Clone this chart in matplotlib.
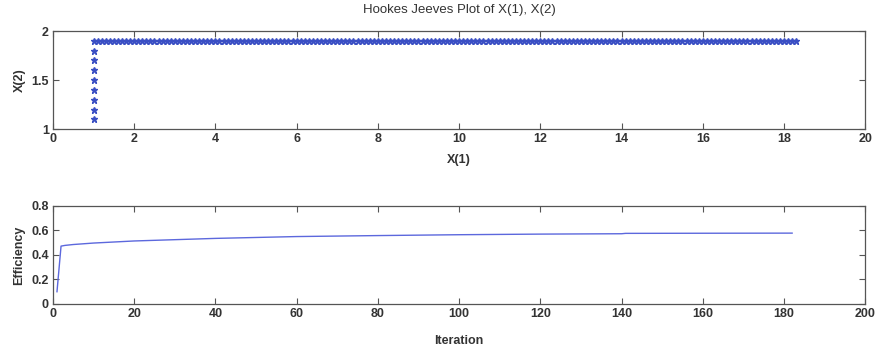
import matplotlib.pyplot as plt

plt.rcParams['font.family'] = ['Liberation Sans', 'DejaVu Sans']

# Hooke-Jeeves path: first along X(2) at X(1)=1, then along X(1) at X(2)=1.9
x1_vertical = [1.0, 1.0, 1.0, 1.0, 1.0, 1.0, 1.0, 1.0]
x2_vertical = [1.1, 1.2, 1.3, 1.4, 1.5, 1.6, 1.7, 1.8]

x1_horizontal = [
    1.0, 1.1, 1.2, 1.3, 1.4, 1.5, 1.6, 1.7, 1.8, 1.9,
    2.0, 2.1, 2.2, 2.3, 2.4, 2.5, 2.6, 2.7, 2.8, 2.9,
    3.0, 3.1, 3.2, 3.3, 3.4, 3.5, 3.6, 3.7, 3.8, 3.9,
    4.0, 4.1, 4.2, 4.3, 4.4, 4.5, 4.6, 4.7, 4.8, 4.9,
    5.0, 5.1, 5.2, 5.3, 5.4, 5.5, 5.6, 5.7, 5.8, 5.9,
    6.0, 6.1, 6.2, 6.3, 6.4, 6.5, 6.6, 6.7, 6.8, 6.9,
    7.0, 7.1, 7.2, 7.3, 7.4, 7.5, 7.6, 7.7, 7.8, 7.9,
    8.0, 8.1, 8.2, 8.3, 8.4, 8.5, 8.6, 8.7, 8.8, 8.9,
    9.0, 9.1, 9.2, 9.3, 9.4, 9.5, 9.6, 9.7, 9.8, 9.9,
    10.0, 10.1, 10.2, 10.3, 10.4, 10.5, 10.6, 10.7, 10.8, 10.9,
    11.0, 11.1, 11.2, 11.3, 11.4, 11.5, 11.6, 11.7, 11.8, 11.9,
    12.0, 12.1, 12.2, 12.3, 12.4, 12.5, 12.6, 12.7, 12.8, 12.9,
    13.0, 13.1, 13.2, 13.3, 13.4, 13.5, 13.6, 13.7, 13.8, 13.9,
    14.0, 14.1, 14.2, 14.3, 14.4, 14.5, 14.6, 14.7, 14.8, 14.9,
    15.0, 15.1, 15.2, 15.3, 15.4, 15.5, 15.6, 15.7, 15.8, 15.9,
    16.0, 16.1, 16.2, 16.3, 16.4, 16.5, 16.6, 16.7, 16.8, 16.9,
    17.0, 17.1, 17.2, 17.3, 17.4, 17.5, 17.6, 17.7, 17.8, 17.9,
    18.0, 18.1, 18.2, 18.3,
]
x2_level = 1.9

# Efficiency per iteration
iterations = [1, 2, 3, 5, 10, 20, 40, 60, 80, 100, 120, 140, 141, 160, 182]
efficiency = [0.10, 0.472, 0.478, 0.485, 0.497, 0.514, 0.535, 0.550, 0.558,
              0.565, 0.570, 0.573, 0.576, 0.577, 0.578]

marker_color = '#3a4fc4'
line_color = '#5c68dd'
frame_color = '#555555'
text_color = '#333333'

fig = plt.figure(figsize=(8.82, 3.49), dpi=100)
ax1 = fig.add_axes([0.060, 0.630, 0.921, 0.281])
ax2 = fig.add_axes([0.060, 0.129, 0.921, 0.281])

ax1.plot(x1_vertical, x2_vertical, linestyle='none', marker='*',
         markersize=5, color=marker_color)
ax1.plot(x1_horizontal, [x2_level] * len(x1_horizontal), linestyle='none',
         marker='*', markersize=5, color=marker_color)
ax1.set_xlim(0, 20)
ax1.set_ylim(1, 2)
ax1.set_xticks(range(0, 21, 2))
ax1.set_yticks([1, 1.5, 2])
ax1.set_yticklabels(['1', '1.5', '2'])
ax1.set_xlabel('X(1)', fontsize=9, labelpad=6, fontweight='bold', color=text_color)
ax1.set_ylabel('X(2)', fontsize=9, labelpad=4, fontweight='bold', color=text_color)
ax1.set_title('Hookes Jeeves Plot of X(1), X(2)', fontsize=9.5, pad=13,
              color=text_color)

ax2.plot(iterations, efficiency, color=line_color, linewidth=1.0)
ax2.set_xlim(0, 200)
ax2.set_ylim(0, 0.8)
ax2.set_xticks(range(0, 201, 20))
ax2.set_yticks([0, 0.2, 0.4, 0.6, 0.8])
ax2.set_yticklabels(['0', '0.2', '0.4', '0.6', '0.8'])
ax2.set_xlabel('Iteration', fontsize=9, labelpad=11, fontweight='bold', color=text_color)
ax2.set_ylabel('Efficiency', fontsize=9, labelpad=4, fontweight='bold', color=text_color)

for ax in (ax1, ax2):
    ax.tick_params(direction='in', top=True, right=True, length=4,
                   width=0.8, color=frame_color, labelsize=9, pad=3)
    for spine in ax.spines.values():
        spine.set_color(frame_color)
        spine.set_linewidth(0.9)
    for label in ax.get_xticklabels() + ax.get_yticklabels():
        label.set_fontweight('bold')
        label.set_color(text_color)

fig.savefig('out.png', dpi=100)
